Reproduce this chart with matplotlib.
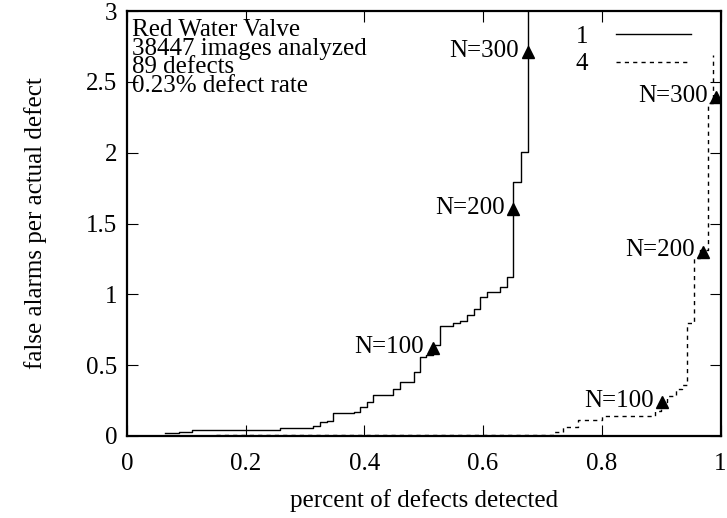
import numpy as np
import matplotlib
matplotlib.use('Agg')
import matplotlib.pyplot as plt

plt.rcParams['font.family'] = ['Liberation Serif', 'DejaVu Serif']

# curve "1" (solid), step breakpoints
x1 = [0.064, 0.088, 0.110, 0.258, 0.313, 0.325, 0.337, 0.347, 0.382, 0.393,
      0.404, 0.415, 0.449, 0.460, 0.483, 0.494, 0.504, 0.515, 0.528, 0.550,
      0.561, 0.573, 0.584, 0.595, 0.607, 0.629, 0.640, 0.651, 0.664, 0.675]
y1 = [0.02, 0.03, 0.04, 0.06, 0.073, 0.097, 0.108, 0.16, 0.17, 0.207,
      0.24, 0.287, 0.33, 0.383, 0.454, 0.56, 0.57, 0.64, 0.776, 0.795,
      0.814, 0.854, 0.90, 0.979, 1.014, 1.05, 1.124, 1.79, 2.006, 3.2]

# curve "4" (dashed), step breakpoints
x4 = [0.15, 0.72, 0.735, 0.76, 0.80, 0.89, 0.90, 0.91, 0.925, 0.935,
      0.944, 0.956, 0.966, 0.979, 0.988]
y4 = [0.01, 0.03, 0.066, 0.113, 0.14, 0.18, 0.24, 0.28, 0.33, 0.36,
      0.80, 1.26, 1.31, 2.35, 2.69]

# N markers
mark1_x = [0.515, 0.651, 0.675]
mark1_y = [0.62, 1.60, 2.71]
mark4_x = [0.902, 0.970, 0.992]
mark4_y = [0.24, 1.30, 2.39]
mark_labels = ['N=100', 'N=200', 'N=300']

info = ['Red Water Valve', '38447 images analyzed', '89 defects', '0.23% defect rate']

fs = 18
fig = plt.figure(figsize=(7.27, 5.18), dpi=100)
ax = fig.add_axes([127/727, 82/518, 593.5/727, 425/518])

ax.plot(x1, y1, drawstyle='steps-post', color='black', lw=1.0, label='1')
ax.plot(x4, y4, drawstyle='steps-post', color='black', lw=1.0,
        linestyle=(0, (3, 3)), label='4')

for xs, ys in [(mark1_x, mark1_y), (mark4_x, mark4_y)]:
    ax.plot(xs, ys, linestyle='none', marker='^', color='black', markersize=8)
    for xx, yy, lab in zip(xs, ys, mark_labels):
        ax.annotate(lab, (xx, yy), xytext=(-6, 1), textcoords='offset points',
                    ha='right', va='center', fontsize=fs)

ax.text(0.008, 0.981, '\n'.join(info), transform=ax.transAxes, ha='left', va='top',
        fontsize=fs, linespacing=0.8)

ax.set_xlim(0, 1)
ax.set_ylim(0, 3)
ax.set_xticks([0, 0.2, 0.4, 0.6, 0.8, 1])
ax.set_xticklabels(['0', '0.2', '0.4', '0.6', '0.8', '1'])
ax.set_yticks([0, 0.5, 1, 1.5, 2, 2.5, 3])
ax.set_yticklabels(['0', '0.5', '1', '1.5', '2', '2.5', '3'])
ax.tick_params(direction='in', length=8, width=0.8, top=True, right=True,
               labelsize=fs)
ax.tick_params(axis='x', pad=12)
ax.tick_params(axis='y', pad=7)
for s in ax.spines.values():
    s.set_linewidth(1.6)

ax.set_xlabel('percent of defects detected', fontsize=fs, labelpad=10)
ax.set_ylabel('false alarms per actual defect', fontsize=fs, labelpad=28)

ax.legend(loc='upper right', frameon=False, markerfirst=False, fontsize=fs,
          handlelength=3.0, borderaxespad=0, borderpad=0.4, labelspacing=0.2,
          handletextpad=1.1, bbox_to_anchor=(0.967, 0.99))

fig.savefig('out.png', dpi=100)
